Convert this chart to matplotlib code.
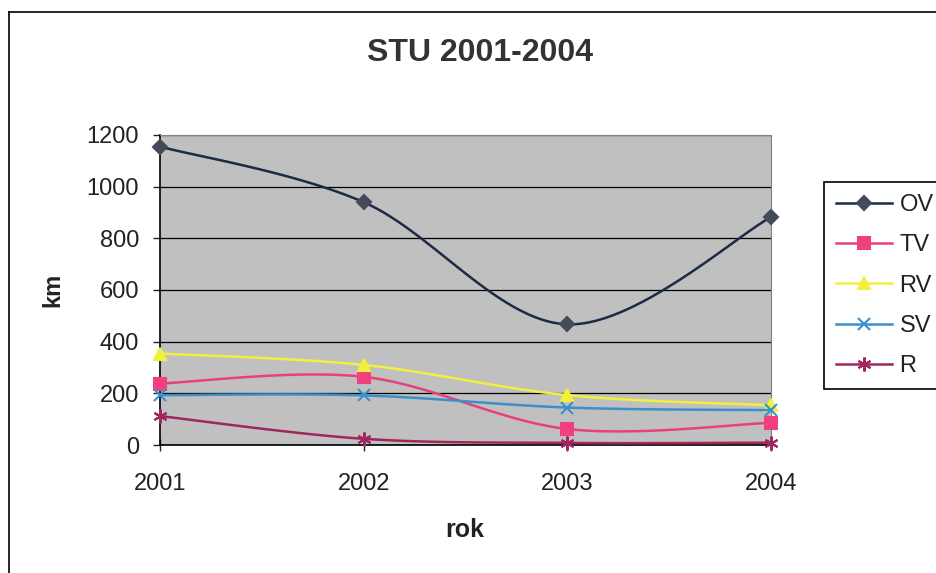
import numpy as np
from matplotlib import pyplot
from matplotlib.lines import Line2D

# yearly lengths (km)
years = ["2001", "2002", "2003", "2004"]
names = ["OV", "TV", "RV", "SV", "R"]
ov = [1155, 940, 467, 882]
tv = [238, 264, 62, 86]
rv = [354, 310, 193, 154]
sv = [193, 192, 145, 135]
r = [112, 24, 8, 9]

colors = ["#1c2b45", "#e8407f", "#f2f03c", "#3a90cc", "#a0265e"]
marker_faces = ["#454a5a", "#f0407f", "#f2f03c", "#3a90cc", "#a0265e"]
markers = ["D", "s", "^", "x", (6, 2, 0)]
marker_sizes = [7, 8, 8, 9, 10]


def smooth(xs, ys, steps=30):
    # Catmull-Rom style bezier through the points, returns curve + indices of the points
    pts = np.column_stack([xs, ys]).astype(float)
    n = len(pts)
    out = []
    idx = []
    for i in range(n - 1):
        p0 = pts[max(i - 1, 0)]
        p1 = pts[i]
        p2 = pts[i + 1]
        p3 = pts[min(i + 2, n - 1)]
        c1 = p1 + (p2 - p0) / 6.0
        c2 = p2 - (p3 - p1) / 6.0
        t = np.linspace(0, 1, steps, endpoint=False)[:, None]
        seg = ((1 - t) ** 3) * p1 + 3 * ((1 - t) ** 2) * t * c1 + 3 * (1 - t) * t ** 2 * c2 + t ** 3 * p2
        idx.append(len(out))
        out.extend(seg)
    idx.append(len(out))
    out.append(pts[-1])
    out = np.array(out)
    return out[:, 0], out[:, 1], idx


pyplot.rcParams["font.family"] = "Liberation Sans"

fig = pyplot.figure(figsize=(9.36, 5.73), dpi=100)
fig.patch.set_facecolor("white")

ax = fig.add_axes([160 / 936, 128 / 573, 611 / 936, 310 / 573])
ax.set_facecolor("#c0c0c0")

x = np.arange(len(years))
for i, vals in enumerate([ov, tv, rv, sv, r]):
    cx, cy, idx = smooth(x, vals)
    ax.plot(cx, cy, color=colors[i], linewidth=1.8, marker=markers[i], markevery=idx,
            markersize=marker_sizes[i], markerfacecolor=marker_faces[i],
            markeredgecolor=marker_faces[i], markeredgewidth=1.5, label=names[i],
            zorder=3, clip_on=False)

ax.set_xlim(0, 3)
ax.set_ylim(0, 1200)
ax.set_yticks(range(0, 1201, 200))
ax.set_xticks(x)
ax.set_xticklabels(years)
ax.yaxis.grid(True, color="black", linewidth=0.9)
ax.set_axisbelow(True)
ax.tick_params(axis="both", labelsize=17, colors="#222222", length=5, width=1)
ax.tick_params(axis="x", direction="inout", length=9, pad=16)
ax.tick_params(axis="y", pad=10)
for side in ["top", "right"]:
    ax.spines[side].set_color("#808080")
for side in ["left", "bottom"]:
    ax.spines[side].set_color("black")
    ax.spines[side].set_linewidth(1.2)

fig.text(480 / 936, 1 - 53 / 573, "STU 2001-2004", ha="center", va="center",
         fontsize=23, fontweight="bold", color="#333333")
fig.text(465 / 936, 1 - 530 / 573, "rok", ha="center", va="center",
         fontsize=18, fontweight="bold", color="#222222")
fig.text(53 / 936, 1 - 290 / 573, "km", ha="center", va="center", rotation=90,
         fontsize=17, fontweight="bold", color="#222222")

leg = fig.legend(loc="upper left", bbox_to_anchor=(824 / 936, 1 - 182 / 573),
                 borderaxespad=0, fancybox=False, edgecolor="black", framealpha=1,
                 prop={"size": 17}, handlelength=2.4,
                 labelspacing=0.78, handletextpad=0.3, borderpad=0.5)
leg.get_frame().set_linewidth(1.2)
for t in leg.get_texts():
    t.set_color("#222222")

# outer chart frame
fig.add_artist(Line2D([9 / 936, 9 / 936], [0, 1 - 12 / 573], color="black", linewidth=1.2))
fig.add_artist(Line2D([9 / 936, 1], [1 - 12 / 573, 1 - 12 / 573], color="black", linewidth=1.2))

pyplot.savefig("out.png", dpi=100)
